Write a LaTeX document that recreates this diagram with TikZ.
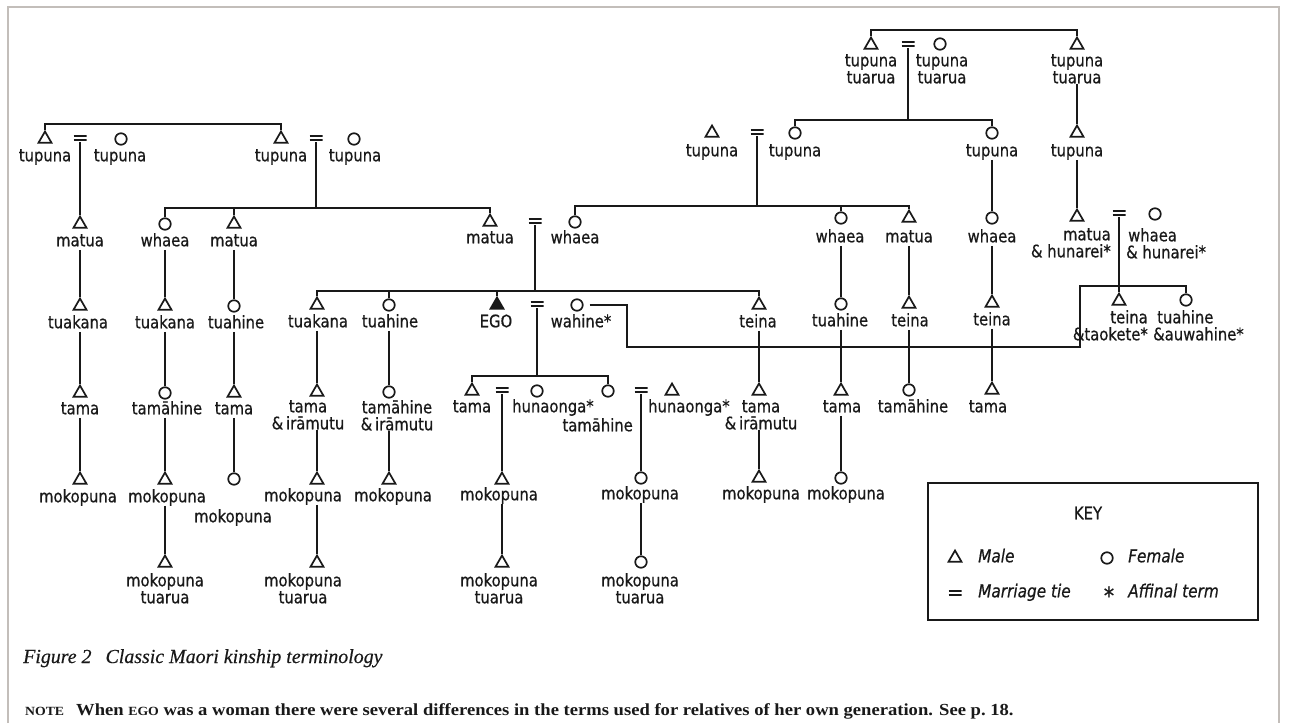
\documentclass[tikz,border=0pt]{standalone}
\usepackage{fontspec}
\usetikzlibrary{shapes.geometric}
\newfontfamily\labfont[FakeStretch=0.86,FakeBold=0.6]{DejaVu Sans}
\newfontfamily\capfont[FakeBold=0.4]{Liberation Serif}
\newfontfamily\notefont[FakeStretch=1.1]{Liberation Serif}
\definecolor{framegray}{RGB}{195,190,186}
\definecolor{ink}{RGB}{25,25,25}
\begin{document}
\begin{tikzpicture}[x=1pt,y=-1pt,
  male/.style={regular polygon, regular polygon sides=3, draw=ink, line width=1.7pt, minimum size=15pt, inner sep=0pt},
  ego/.style={male, fill=ink},
  fem/.style={circle, draw=ink, line width=1.7pt, minimum size=11.5pt, inner sep=0pt},
  mar/.style={minimum width=13pt, minimum height=8pt, inner sep=0pt,
    path picture={\draw[ink, line width=1.7pt]
      ([yshift=2.2pt]path picture bounding box.west) -- ([yshift=2.2pt]path picture bounding box.east)
      ([yshift=-2.2pt]path picture bounding box.west) -- ([yshift=-2.2pt]path picture bounding box.east);}},
  lbl/.style={font=\labfont\fontsize{17.2}{17}\selectfont, text=ink, inner sep=0pt, text height=12pt, text depth=3.5pt},
  lbm/.style={font=\labfont\fontsize{17.2}{17}\selectfont, text=ink, inner sep=0pt},
  kit/.style={lbl, anchor=west, font=\labfont\fontsize{17.8}{17}\selectfont\itshape},
  link/.style={draw=ink, line width=1.7pt},
]
\useasboundingbox (0,0) rectangle (1289,723);
\fill[white] (0,0) rectangle (1289,723);
\draw[framegray, line width=1.2pt] (8,723) -- (8,7) -- (1279,7) -- (1279,723);

% ---------- Row A ----------
\node[male] (A1) at (871,45) {};
\node[mar] (Aeq) at (908,44) {};
\node[fem] (A2) at (940,44) {};
\node[male] (A3) at (1077,45) {};
\node[lbm, align=center, anchor=north] (A1l) at (871,54) {tupuna\\tuarua};
\node[lbm, align=center, anchor=north] (A2l) at (942,54) {tupuna\\tuarua};
\node[lbm, align=center, anchor=north] (A3l) at (1077,54) {tupuna\\tuarua};
\coordinate (barA) at (0,30);
\draw[link] (A1.north) -- (A1.north |- barA) -- (A3.north |- barA) -- (A3.north);

% ---------- Row B left ----------
\node[male] (B1) at (45,139) {};
\node[lbl] (B1l) at (45,157) {tupuna};
\node[mar] (B1eq) at (80,138) {};
\node[fem] (B2) at (121,139) {};
\node[lbl] (B2l) at (120,157) {tupuna};
\node[male] (B3) at (281,139) {};
\node[lbl] (B3l) at (281,157) {tupuna};
\node[mar] (B3eq) at (316,138) {};
\node[fem] (B4) at (354,139) {};
\node[lbl] (B4l) at (355,157) {tupuna};
\coordinate (barB) at (0,124);
\draw[link] (B1.north) -- (B1.north |- barB) -- (B3.north |- barB) -- (B3.north);

% ---------- Row B right ----------
\node[male] (B5) at (712,133) {};
\node[lbl] (B5l) at (712,152) {tupuna};
\node[mar] (B5eq) at (757,132) {};
\node[fem] (B6) at (795,133) {};
\node[lbl] (B6l) at (795,152) {tupuna};
\node[fem] (B7) at (992,133) {};
\node[lbl] (B7l) at (992,152) {tupuna};
\node[male] (B8) at (1077,133) {};
\node[lbl] (B8l) at (1077,152) {tupuna};
\coordinate (barB2) at (0,120);
\draw[link] (Aeq.south) -- (Aeq.south |- barB2);
\draw[link] (B6.north) -- (B6.north |- barB2) -- (B7.north |- barB2) -- (B7.north);
\draw[link] (A3l.south -| B8.north) -- (B8.north);

% ---------- Row C ----------
\node[male] (C1) at (80,224) {};  \node[lbl] (C1l) at (80,242) {matua};
\node[fem] (C2) at (165,224) {};  \node[lbl] (C2l) at (165,242) {whaea};
\node[male] (C3) at (234,224) {}; \node[lbl] (C3l) at (234,242) {matua};
\node[male] (C4) at (490,222) {}; \node[lbl] (C4l) at (490,239) {matua};
\node[mar] (C4eq) at (535,221) {};
\node[fem] (C5) at (575,222) {};  \node[lbl] (C5l) at (575,239) {whaea};
\node[fem] (C6) at (841,218) {};  \node[lbl] (C6l) at (840,238) {whaea};
\node[male] (C7) at (909,218) {}; \node[lbl] (C7l) at (909,238) {matua};
\node[fem] (C8) at (992,218) {};  \node[lbl] (C8l) at (992,238) {whaea};
\node[male] (C9) at (1077,217) {};
\node[lbm, align=right, anchor=north east] (C9l) at (1111,228) {matua\hspace{8pt}\\\& hunarei*};
\node[mar] (C9eq) at (1119,213) {};
\node[fem] (C10) at (1155,214) {};
\node[lbm, align=left, anchor=north west] (C10l) at (1126,228) {\hspace{2pt}whaea\\\& hunarei*};

\draw[link] (B1eq.south) -- (C1.north);
\coordinate (barC) at (0,208);
\draw[link] (B3eq.south) -- (B3eq.south |- barC);
\draw[link] (C2.north) -- (C2.north |- barC) -- (C4.north |- barC) -- (C4.north);
\draw[link] (C3.north) -- (C3.north |- barC);
\coordinate (barC2) at (0,206);
\draw[link] (B5eq.south) -- (B5eq.south |- barC2);
\draw[link] (C5.north) -- (C5.north |- barC2) -- (C7.north |- barC2) -- (C7.north);
\draw[link] (C6.north) -- (C6.north |- barC2);
\draw[link] (B7l.south -| C8.north) -- (C8.north);
\draw[link] (B8l.south -| C9.north) -- (C9.north);

% ---------- Row D ----------
\node[male] (D1) at (80,306) {};  \node[lbl] (D1l) at (78,324) {tuakana};
\node[male] (D2) at (165,306) {}; \node[lbl] (D2l) at (165,324) {tuakana};
\node[fem] (D3) at (234,306) {};  \node[lbl] (D3l) at (236,324) {tuahine};
\node[male] (D4) at (317,305) {}; \node[lbl] (D4l) at (318,323) {tuakana};
\node[fem] (D5) at (389,305) {};  \node[lbl] (D5l) at (390,323) {tuahine};
\node[ego] (D6) at (497,305) {};  \node[lbl] (D6l) at (496,323) {EGO};
\node[mar] (D6eq) at (537,304) {};
\node[fem] (D7) at (577,305) {};  \node[lbl] (D7l) at (581,323) {wahine*};
\node[male] (D8) at (759,305) {}; \node[lbl] (D8l) at (758,323) {teina};
\node[fem] (D9) at (841,304) {};  \node[lbl] (D9l) at (840,322) {tuahine};
\node[male] (D10) at (909,304) {}; \node[lbl] (D10l) at (910,322) {teina};
\node[male] (D11) at (992,303) {}; \node[lbl] (D11l) at (992,321) {teina};
\node[male] (D12) at (1119,301) {};
\node[lbm, align=right, anchor=north east] (D12l) at (1148,310) {teina\hspace{12pt}\\\&taokete*};
\node[fem] (D13) at (1186,300) {};
\node[lbm, align=left, anchor=north west] (D13l) at (1153,310) {\hspace{4pt}tuahine\\\&auwahine*};

\draw[link] (C1l.south -| D1.north) -- (D1.north);
\draw[link] (C2l.south -| D2.north) -- (D2.north);
\draw[link] (C3l.south -| D3.north) -- (D3.north);
\coordinate (barD) at (0,291);
\draw[link] (C4eq.south) -- (C4eq.south |- barD);
\draw[link] (D4.north) -- (D4.north |- barD) -- (D8.north |- barD) -- (D8.north);
\draw[link] (D5.north) -- (D5.north |- barD);
\draw[link] (D6.north) -- (D6.north |- barD);
\draw[link] (C6l.south -| D9.north) -- (D9.north);
\draw[link] (C7l.south -| D10.north) -- (D10.north);
\draw[link] (C8l.south -| D11.north) -- (D11.north);
\draw[link] (C9eq.south) -- (D12.north);
\coordinate (barD2) at (0,286);
\coordinate (wb) at (627,347);
\coordinate (wc) at (1080,347);
\draw[link, shorten <=6pt] (D7.east) -| (wb) -- (wc) -- (wc |- barD2) -| (D13.north);

% ---------- Row E ----------
\node[male] (E1) at (80,393) {};  \node[lbl] (E1l) at (80,410) {tama};
\node[fem] (E2) at (165,393) {};  \node[lbl] (E2l) at (167,410) {tamāhine};
\node[male] (E3) at (234,393) {}; \node[lbl] (E3l) at (234,410) {tama};
\node[male] (E4) at (317,392) {};
\node[lbm, align=center, anchor=north] (E4l) at (308,400) {tama\\\&\,irāmutu};
\node[fem] (E5) at (389,392) {};
\node[lbm, align=center, anchor=north] (E5l) at (397,400) {tamāhine\\\&\,irāmutu};
\node[male] (E6) at (472,391) {}; \node[lbl] (E6l) at (472,408) {tama};
\node[mar] (E6eq) at (502,390) {};
\node[fem] (E7) at (537,391) {};  \node[lbl, anchor=west] (E7l) at (512,408) {hunaonga*};
\node[fem] (E8) at (608,391) {};  \node[lbl, anchor=east] (E8l) at (633,427) {tamāhine};
\node[mar] (E8eq) at (641,390) {};
\node[male] (E9) at (672,391) {}; \node[lbl, anchor=west] (E9l) at (648,408) {hunaonga*};
\node[male] (E10) at (759,391) {};
\node[lbm, align=center, anchor=north] (E10l) at (761,400) {tama\\\&\,irāmutu};
\node[male] (E11) at (841,391) {}; \node[lbl] (E11l) at (842,408) {tama};
\node[fem] (E12) at (909,390) {};  \node[lbl] (E12l) at (913,408) {tamāhine};
\node[male] (E13) at (992,390) {}; \node[lbl] (E13l) at (988,408) {tama};

\draw[link] (D1l.south -| E1.north) -- (E1.north);
\draw[link] (D2l.south -| E2.north) -- (E2.north);
\draw[link] (D3l.south -| E3.north) -- (E3.north);
\draw[link] (D4l.south -| E4.north) -- (E4.north);
\draw[link] (D5l.south -| E5.north) -- (E5.north);
\coordinate (barE) at (0,376);
\draw[link] (D6eq.south) -- (D6eq.south |- barE);
\draw[link] (E6.north) -- (E6.north |- barE) -- (E8.north |- barE) -- (E8.north);
\draw[link] (D8l.south -| E10.north) -- (E10.north);
\draw[link] (D9l.south -| E11.north) -- (E11.north);
\draw[link] (D10l.south -| E12.north) -- (E12.north);
\draw[link] (D11l.south -| E13.north) -- (E13.north);

% ---------- Row F ----------
\node[male] (F1) at (80,480) {};  \node[lbl] (F1l) at (78,498) {mokopuna};
\node[male] (F2) at (165,480) {}; \node[lbl] (F2l) at (167,498) {mokopuna};
\node[fem] (F3) at (234,479) {};  \node[lbl] (F3l) at (233,518) {mokopuna};
\node[male] (F4) at (317,480) {}; \node[lbl] (F4l) at (303,497) {mokopuna};
\node[male] (F5) at (389,480) {}; \node[lbl] (F5l) at (393,497) {mokopuna};
\node[male] (F6) at (502,480) {}; \node[lbl] (F6l) at (499,496) {mokopuna};
\node[fem] (F7) at (641,478) {};  \node[lbl] (F7l) at (640,495) {mokopuna};
\node[male] (F8) at (759,478) {}; \node[lbl] (F8l) at (761,495) {mokopuna};
\node[fem] (F9) at (841,478) {};  \node[lbl] (F9l) at (846,495) {mokopuna};

\draw[link] (E1l.south -| F1.north) -- (F1.north);
\draw[link] (E2l.south -| F2.north) -- (F2.north);
\draw[link] (E3l.south -| F3.north) -- (F3.north);
\draw[link] (E4l.south -| F4.north) -- (F4.north);
\draw[link] (E5l.south -| F5.north) -- (F5.north);
\draw[link] (E6eq.south) -- (F6.north);
\draw[link] (E8eq.south) -- (F7.north);
\draw[link] (E10l.south -| F8.north) -- (F8.north);
\draw[link] (E11l.south -| F9.north) -- (F9.north);

% ---------- Row G ----------
\node[male] (G1) at (165,563) {};
\node[lbm, align=center, anchor=north] (G1l) at (165,573) {mokopuna\\tuarua};
\node[male] (G2) at (317,563) {};
\node[lbm, align=center, anchor=north] (G2l) at (303,573) {mokopuna\\tuarua};
\node[male] (G3) at (502,563) {};
\node[lbm, align=center, anchor=north] (G3l) at (499,573) {mokopuna\\tuarua};
\node[fem] (G4) at (641,562) {};
\node[lbm, align=center, anchor=north] (G4l) at (640,573) {mokopuna\\tuarua};

\draw[link] (F2l.south -| G1.north) -- (G1.north);
\draw[link] (F4l.south -| G2.north) -- (G2.north);
\draw[link] (F6l.south -| G3.north) -- (G3.north);
\draw[link] (F7l.south -| G4.north) -- (G4.north);

% ---------- Key ----------
\node[draw=ink, line width=2.2pt, minimum width=330pt, minimum height=137pt, inner sep=0pt] (key) at (1093,551.5) {};
\node[lbl] (keyt) at (1088,515) {KEY};
\node[male] (km) at (955,558) {};
\node[kit] (kml) at (978,558) {Male};
\node[fem] (kf) at (1107,558) {};
\node[kit] (kfl) at (1128,558) {Female};
\node[mar] (ke) at (955,593) {};
\node[kit] (kel) at (978,593) {Marriage tie};
\node[lbl, font=\labfont\fontsize{24}{24}\selectfont] (ka) at (1109,600) {*};
\node[kit] (kal) at (1128,593) {Affinal term};

% ---------- Caption ----------
\node[anchor=base west, inner sep=0pt, text=ink, font=\capfont\itshape\fontsize{19.9}{21}\selectfont] (cap) at (23,663) {Figure 2\hspace{14pt}Classic Maori kinship terminology};
\node[anchor=base west, inner sep=0pt, text=ink, font=\notefont\bfseries\fontsize{16.9}{18}\selectfont] (note) at (25,715) {{\fontsize{12.5}{13}\selectfont NOTE}\hspace{12pt}When {\fontsize{12.5}{13}\selectfont EGO} was a woman there were several differences in the terms used for relatives of her own generation. See p.~18.};
\end{tikzpicture}
\end{document}
